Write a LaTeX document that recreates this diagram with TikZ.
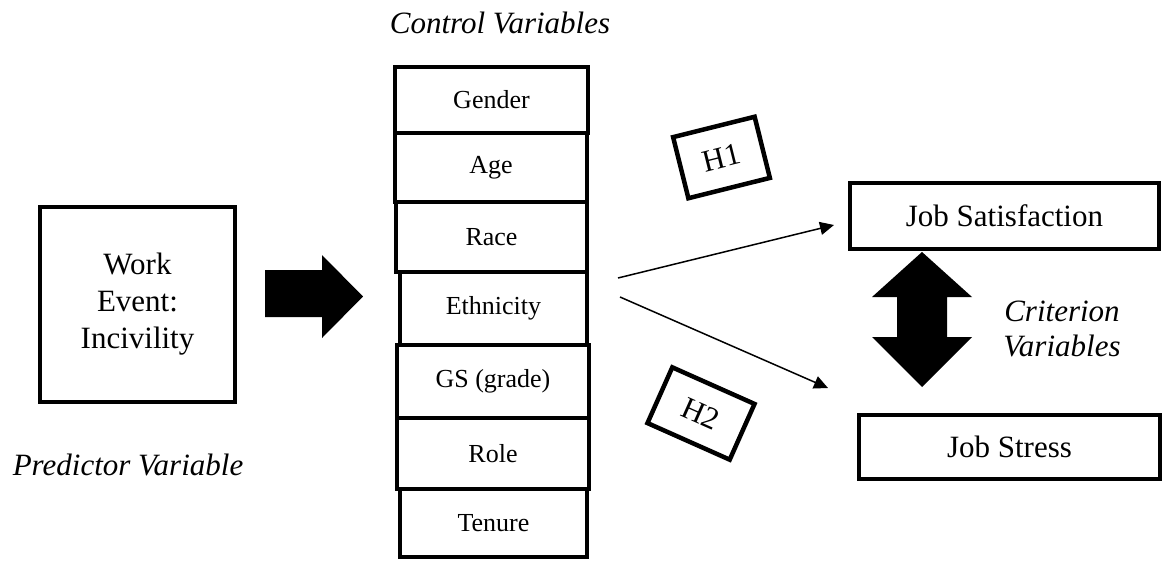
\documentclass[tikz,border=0pt]{standalone}
\usepackage{fontspec}
\setmainfont{Liberation Serif}
\usetikzlibrary{shapes,arrows,arrows.meta}
\tikzset{
  caja/.style={draw, line width=4.5pt, inner sep=0pt, font=\fontsize{31}{37}\selectfont},
  ctrl/.style={draw, line width=4.5pt, inner sep=0pt, font=\fontsize{26}{30}\selectfont},
  etiq/.style={font=\fontsize{31}{35}\selectfont\itshape},
  flecha/.style={line width=1.5pt, -{Triangle[length=14pt,width=13pt]}}
}
\begin{document}
\begin{tikzpicture}[x=1pt,y=-1pt]
        \useasboundingbox (0,0) rectangle (1165,560);
        % predictor
        \node[caja, minimum width=195, minimum height=195, align=center] (work) at (137.5,304.5) {Work\\Event:\\Incivility};
        \node[etiq, anchor=base] (pred) at (128,475) {Predictor Variable};
        % flecha gruesa
        \fill (265,270) -- (322,270) -- (322,255) -- (363,296.5) -- (322,338) -- (322,317) -- (265,317) -- cycle;
        % control variables
        \node[etiq, anchor=base] (ctrltit) at (500,33) {Control Variables};
        \foreach \nm/\lbl/\cx/\cy/\w/\h in {gen/Gender/491.5/100/193/66,
                age/Age/491/167.5/192/69,
                race/Race/491.5/237/191/70,
                eth/Ethnicity/493.5/308.5/187/73,
                gs/GS (grade)/493/381.5/192/73,
                role/Role/493/453.5/192/71,
                ten/Tenure/493.5/523/187/68}
        \node[ctrl, minimum width=\w, minimum height=\h] (\nm) at (\cx,\cy) {\lbl};
        % criterion
        \node[caja, minimum width=309, minimum height=66] (js) at (1004.5,216) {Job Satisfaction};
        \node[caja, minimum width=301, minimum height=64] (jst) at (1009.5,447) {Job Stress};
        \node[etiq, align=center] (crit) at (1062,329) {Criterion\\Variables};
        % flecha doble
        \fill (922,252) -- (972,297) -- (947,297) -- (947,337) -- (972,337) -- (922,387)
              -- (872,337) -- (897,337) -- (897,297) -- (872,297) -- cycle;
        % hipotesis
        \coordinate (h1a) at (618,278);
        \coordinate (h1b) at (834,225);
        \coordinate (h2a) at (620,297);
        \coordinate (h2b) at (828,388);
        \draw[flecha] (h1a) -- (h1b);
        \draw[flecha] (h2a) -- (h2b);
        \node[caja, rotate=14, minimum width=84, minimum height=63] (h1) at (721.5,157.5) {H1};
        \node[caja, rotate=-24, minimum width=90, minimum height=61] (h2) at (701,413.5) {H2};
        \end{tikzpicture}
\end{document}
